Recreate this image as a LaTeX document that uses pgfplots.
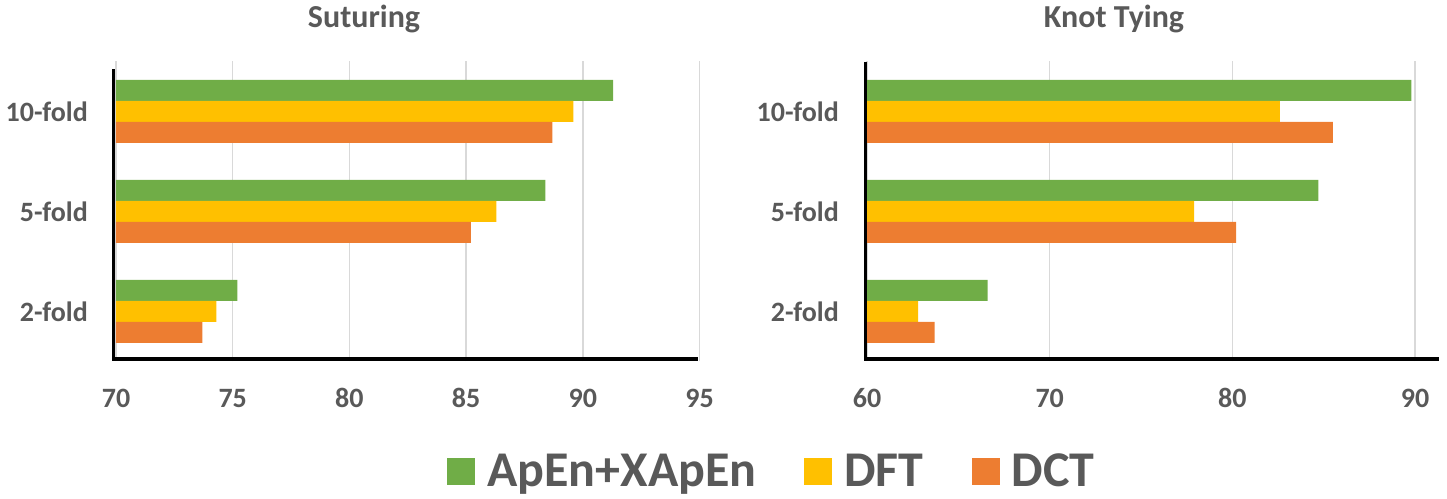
\documentclass[border=0pt]{standalone}
\usepackage{fontspec}
\setmainfont{Carlito}
\usepackage{pgfplots}
\pgfplotsset{compat=1.18}
\definecolor{cgreen}{HTML}{70AD47}
\definecolor{cyellow}{HTML}{FFC000}
\definecolor{corange}{HTML}{ED7D31}
\definecolor{ctext}{HTML}{595959}
\definecolor{cgrid}{HTML}{D9D9D9}
\pgfplotsset{
  panel/.style={
    scale only axis, height=300pt, anchor=south west,
    xbar, bar width=21pt,
    ymin=-0.5, ymax=2.5, ytick={0,1,2}, yticklabels={2-fold,5-fold,10-fold},
    xmajorgrids, grid style={cgrid, line width=1.5pt},
    axis line style={draw=none}, major tick length=0pt,
    /pgf/number format/assume math mode=true,
    tick label style={font=\fontsize{28}{33}\selectfont\bfseries, text=ctext, inner sep=0pt},
    xticklabel style={anchor=base, yshift=-45.7pt},
    yticklabel style={anchor=east, xshift=-28pt},
  }
}
\begin{document}
\begin{tikzpicture}
\useasboundingbox (0pt,0pt) rectangle (1447pt,-498pt);
\begin{axis}[panel, at={(116pt,-361.3pt)}, width=583.5pt,
  xmin=70, xmax=95, xtick={70,75,80,85,90,95},
  legend style={at={(1.1225,-0.366)}, anchor=center, draw=none, fill=none,
    legend columns=3, font=\fontsize{50}{60}\selectfont\bfseries, text=ctext,
    nodes={inner sep=0pt},
    /tikz/every odd column/.append style={column sep=12pt},
    /tikz/every even column/.append style={column sep=48pt}},
  legend image code/.code={\fill[#1] (0pt,-13.5pt) rectangle (28pt,13.5pt);}]
\addplot[fill=cgreen, draw=none, bar shift=21pt] coordinates {(75.2,0) (88.4,1) (91.3,2)};
\addplot[fill=cyellow, draw=none, bar shift=0pt] coordinates {(74.3,0) (86.3,1) (89.6,2)};
\addplot[fill=corange, draw=none, bar shift=-21pt] coordinates {(73.7,0) (85.2,1) (88.7,2)};
\legend{ApEn+XApEn, DFT, DCT}
\end{axis}
\begin{axis}[panel, at={(867pt,-361.3pt)}, width=572pt,
  xmin=60, xmax=91.31, xtick={60,70,80,90}]
\addplot[fill=cgreen, draw=none, bar shift=21pt] coordinates {(66.6,0) (84.7,1) (89.8,2)};
\addplot[fill=cyellow, draw=none, bar shift=0pt] coordinates {(62.8,0) (77.9,1) (82.6,2)};
\addplot[fill=corange, draw=none, bar shift=-21pt] coordinates {(63.7,0) (80.2,1) (85.5,2)};
\end{axis}
\draw[black, line width=3.5pt] (113.3pt,-69pt) -- (113.3pt,-359pt) -- (698pt,-359pt);
\draw[black, line width=3.5pt] (865.5pt,-62pt) -- (865.5pt,-359pt) -- (1439pt,-359pt);
\node[anchor=base, font=\fontsize{32}{38}\selectfont\bfseries, text=ctext, inner sep=0pt] at (364pt,-27pt) {Suturing};
\node[anchor=base, font=\fontsize{32}{38}\selectfont\bfseries, text=ctext, inner sep=0pt] at (1114pt,-27pt) {Knot Tying};
\end{tikzpicture}
\end{document}
